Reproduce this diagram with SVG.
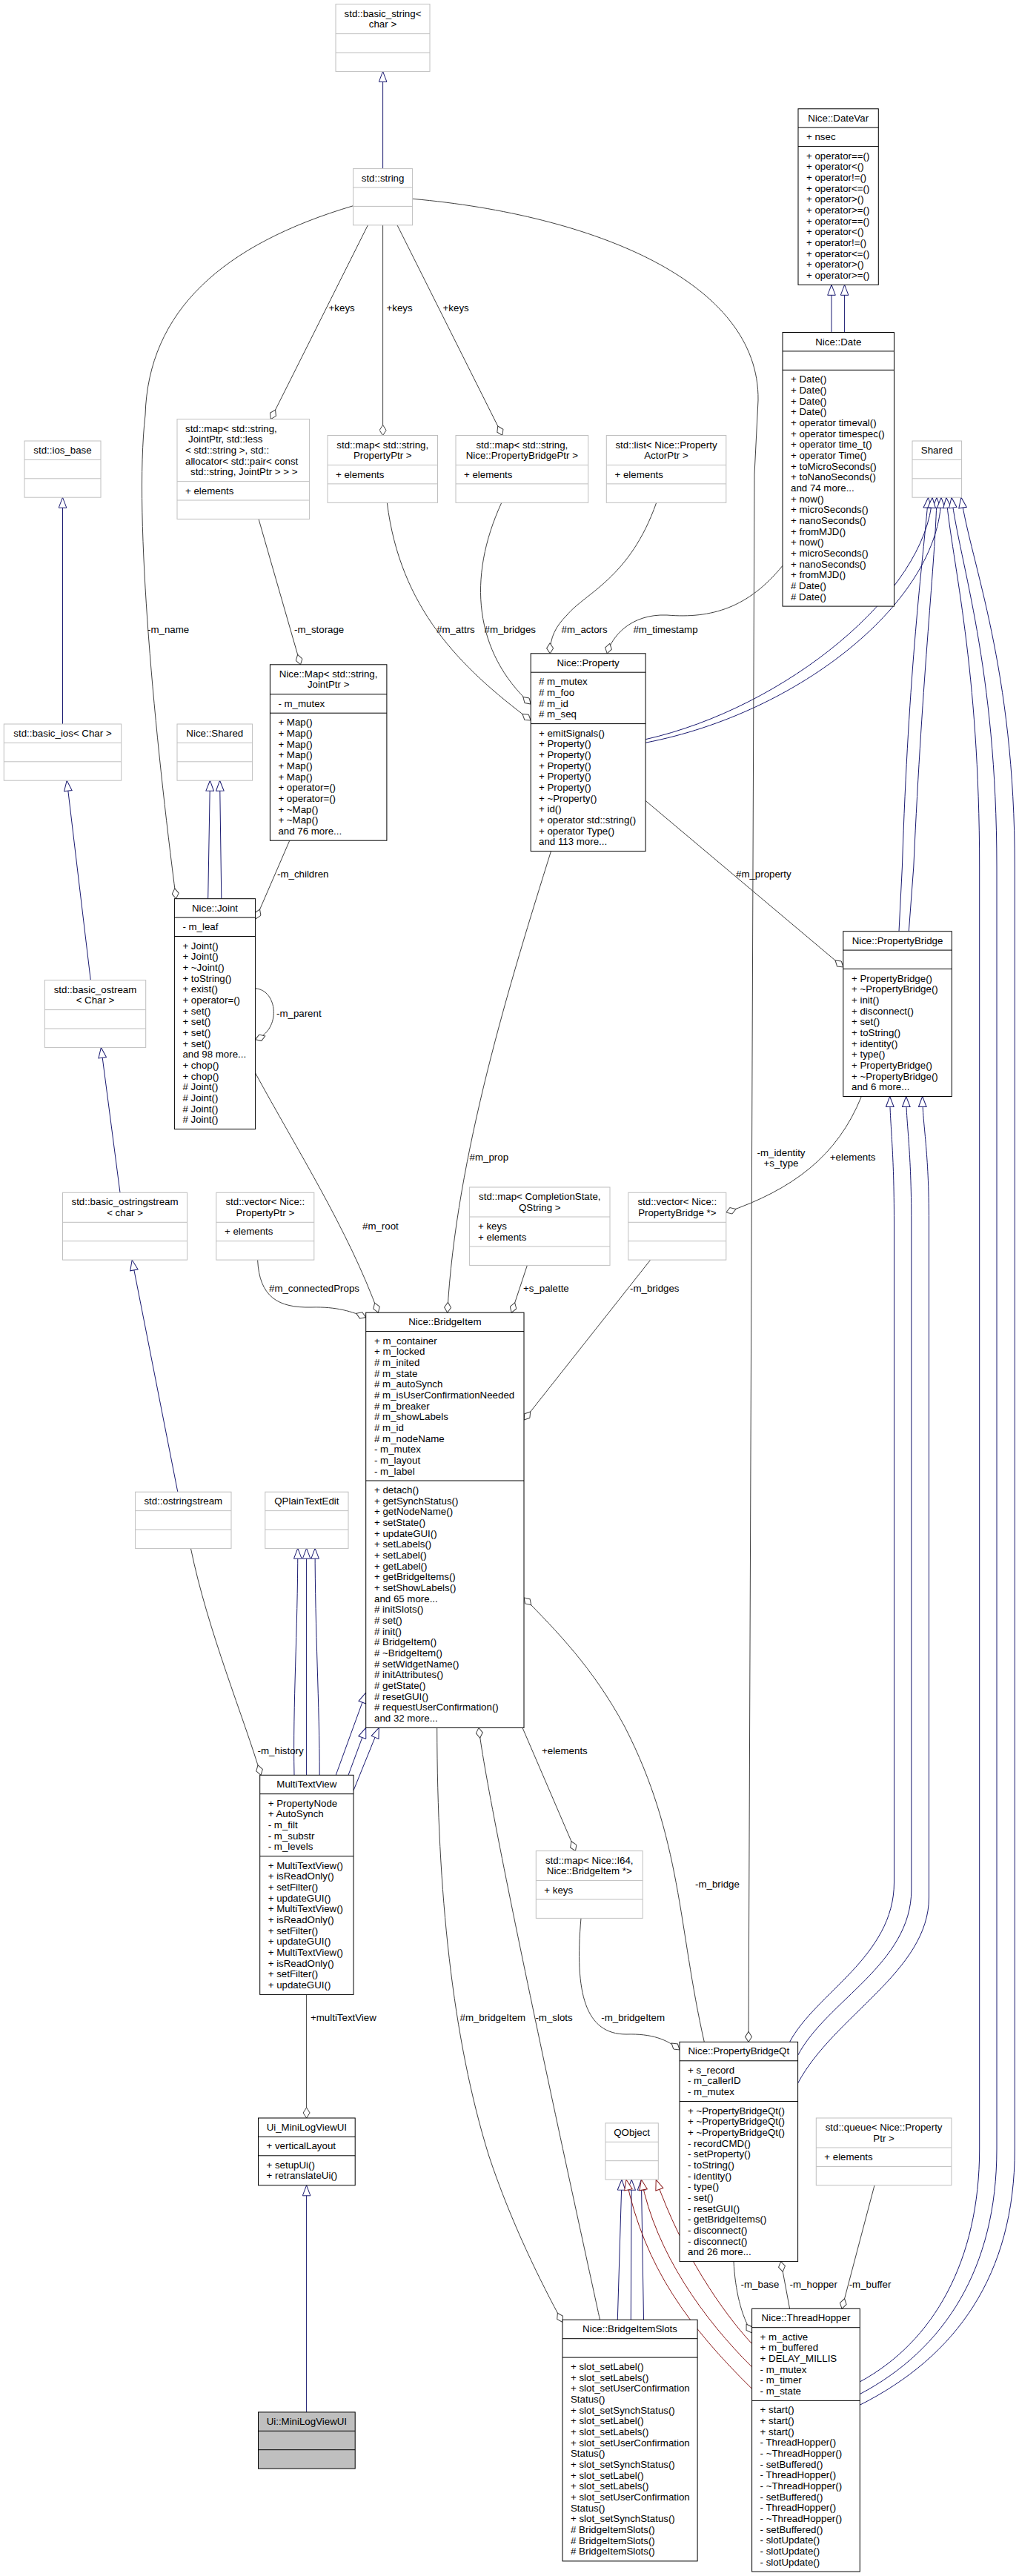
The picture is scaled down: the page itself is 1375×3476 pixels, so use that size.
<svg xmlns="http://www.w3.org/2000/svg" width="1375" height="3476" viewBox="0 0 1375 3476">
<style>
text{font-family:"Liberation Sans",Arial,Helvetica,sans-serif;font-size:13.3px;fill:#000}
.c{text-anchor:middle}
.bx{fill:#fff;stroke:#000;stroke-width:1}
.gx{fill:#fff;stroke:#bfbfbf;stroke-width:1}
.hx{fill:#bfbfbf;stroke:#000;stroke-width:1}
.bs{fill:none;stroke:#000;stroke-width:1}
.gs{fill:none;stroke:#bfbfbf;stroke-width:1}
.a{fill:none;stroke:#404040;stroke-width:1;marker-end:url(#dia)}
.i{fill:none;stroke:#191970;stroke-width:1;marker-end:url(#tri)}
.r{fill:none;stroke:#8b1a1a;stroke-width:1;marker-end:url(#trir)}
</style>
<defs>
<marker id="dia" markerUnits="userSpaceOnUse" viewBox="0 0 16 10" markerWidth="16" markerHeight="10" refX="15" refY="5" orient="auto"><path d="M1,5 L8,0.5 L15,5 L8,9.5 Z" fill="#fff" stroke="#404040"/></marker>
<marker id="tri" markerUnits="userSpaceOnUse" viewBox="0 0 16 12" markerWidth="16" markerHeight="12" refX="15" refY="6" orient="auto"><path d="M1,0.7 L15,6 L1,11.3 Z" fill="#fff" stroke="#191970"/></marker>
<marker id="trir" markerUnits="userSpaceOnUse" viewBox="0 0 16 12" markerWidth="16" markerHeight="12" refX="15" refY="6" orient="auto"><path d="M1,0.7 L15,6 L1,11.3 Z" fill="#fff" stroke="#8b1a1a"/></marker>
</defs>
<rect x="0" y="0" width="1375" height="3476" fill="#fff"/>

<g id="connectors">
<path class="i" d="M516.6,227.6 L516.6,96.4"/>
<path class="i" d="M1122,448.5 L1122,384.3"/>
<path class="i" d="M1139.6,448.5 L1139.6,384.3"/>
<path class="i" d="M84.5,977 L84.5,671.2"/>
<path class="i" d="M122.3,1322.6 L90.2,1053.2"/>
<path class="i" d="M162,1609.3 L136.4,1413.4"/>
<path class="i" d="M239.8,2013.2 L178.2,1700.1"/>
<path class="i" d="M280.7,1212.7 L283.4,1053.2"/>
<path class="i" d="M298.8,1212.7 L296.6,1053.2"/>
<path class="i" d="M397,2395.3 C395,2300 401.8,2200 401.8,2089.2"/>
<path class="i" d="M413.6,2395.3 L413.6,2089.2"/>
<path class="i" d="M431.2,2395.3 C431.2,2300 425.1,2200 425.1,2089.2"/>
<path class="i" d="M453.2,2395.3 L493.7,2284"/>
<path class="i" d="M470,2395.3 L493.7,2331.4"/>
<path class="i" d="M477,2416 L511.3,2331.4"/>
<path class="i" d="M413.6,3254.9 L413.6,2948.8"/>
<path class="i" d="M833.3,3130.3 L839,2941.1"/>
<path class="i" d="M851.3,3130.3 L852.2,2941.1"/>
<path class="i" d="M868.5,3130.3 L865.4,2941.1"/>
<path class="r" d="M1014.6,3162.6 C975,3120 920,3040 885.2,2941.1"/>
<path class="r" d="M1014.6,3193.9 C950,3130 885,3040 865.4,2941.1"/>
<path class="r" d="M1014.6,3223.3 C930,3140 870,3060 845,2941.1"/>
<path class="i" d="M1065.6,2755.4 C1100,2690 1206.5,2640 1206.5,2540 L1206.5,1650 C1206.5,1550 1201,1520 1200.7,1479.5"/>
<path class="i" d="M1076.6,2773.4 C1115,2700 1229.8,2650 1229.8,2550 L1229.8,1650 C1229.8,1550 1223,1520 1222.7,1479.5"/>
<path class="i" d="M1076.6,2811 C1125,2720 1253.5,2660 1253.5,2560 L1253.5,1650 C1253.5,1550 1245,1520 1244.7,1479.5"/>
<path class="i" d="M1213,1256.7 L1217.4,1170 C1226,900 1245,760 1252.6,671.2"/>
<path class="i" d="M1226.3,1256.7 L1232.8,1170 C1245,900 1262,760 1264,671.2"/>
<path class="i" d="M871.1,997.7 C1060,955 1250,800 1258,671.2"/>
<path class="i" d="M871.1,1002.2 C1080,962 1268,810 1270,671.2"/>
<path class="i" d="M1160.2,3214 C1260,3160 1321.7,3050 1321.7,2900 L1321.7,1170 C1321.7,900 1285,760 1276.8,671.2"/>
<path class="i" d="M1160.2,3230.6 C1275,3170 1345,3060 1345,2900 L1345,1170 C1345,900 1295,760 1284,671.2"/>
<path class="i" d="M1160.2,3245.3 C1290,3180 1369.3,3070 1369.3,2900 L1369.3,1170 C1369.3,900 1310,760 1297,671.2"/>

<path class="a" d="M496.4,303.8 L365.3,565.6"/>
<path class="a" d="M516.6,303.8 L516.6,587.5"/>
<path class="a" d="M536,303.8 L678,587.5"/>
<path class="a" d="M476.6,277.7 C300,330 200,420 196,560 C180,700 210,1000 237.6,1212.7"/>
<path class="a" d="M349,700.4 L405.5,896.8"/>
<path class="a" d="M522.3,678.3 C540,820 620,900 716.2,972"/>
<path class="a" d="M676.8,678.3 C630,780 640,880 716.2,950"/>
<path class="a" d="M885.7,678.3 C850,780 790,800 765,830 C750,845 742,860 742.2,881.8"/>
<path class="a" d="M1056,763.3 C1010,820 960,835 900,830 C850,828 825,860 819.2,881.8"/>
<path class="a" d="M390.8,1134.2 L345,1240"/>
<path class="a" d="M344.6,1333.8 C375,1336 380,1390 344.6,1402.7"/>
<path class="a" d="M344.6,1448 C400,1550 470,1660 510.4,1771.2"/>
<path class="a" d="M743.5,1148.6 C690,1320 615,1560 603.7,1771.2"/>
<path class="a" d="M871.1,1080.5 L1137.8,1305"/>
<path class="a" d="M347.6,1700.1 C350,1750 375,1765 420,1764 C455,1763 475,1770 493.7,1777.6"/>
<path class="a" d="M711.4,1707.4 L690.3,1771.2"/>
<path class="a" d="M877.7,1700.1 L707,1916"/>
<path class="a" d="M1162.4,1479.5 C1130,1560 1070,1605 979.8,1636"/>
<path class="a" d="M556.7,268.3 C800,290 1025,380 1023,540 L1018,640 L1010,2755.4"/>
<path class="a" d="M705,2331.4 L776.5,2497.6"/>
<path class="a" d="M784,2588.4 C775,2690 790,2745 845,2745 C880,2744 900,2752 917,2766"/>
<path class="a" d="M950.3,2755.4 C915,2600 920,2480 843,2330 C800,2250 750,2200 707,2155.8"/>
<path class="a" d="M809.5,3130.3 C790,3040 660,2450 646,2331.4"/>
<path class="a" d="M589.7,2331.4 C590,2550 610,2750 660,2910 C690,3000 730,3080 759,3133.5"/>
<path class="a" d="M413.6,2691.4 L413.6,2858"/>
<path class="a" d="M257.4,2089.2 C280,2200 330,2320 352,2395.3"/>
<path class="a" d="M1065.6,3115.3 L1053.7,3051.6"/>
<path class="a" d="M990,3051.6 C992,3090 1000,3125 1014.6,3148"/>
<path class="a" d="M1180,2948.8 L1136,3115.3"/>

<text x="443.6" y="420.3">+keys</text>
<text x="521.5" y="420.3">+keys</text>
<text x="597.6" y="420.3">+keys</text>
<text x="199" y="853.5">-m_name</text>
<text x="397" y="853.5">-m_storage</text>
<text x="589" y="853.5">#m_attrs</text>
<text x="653.5" y="853.5">#m_bridges</text>
<text x="757.6" y="853.5">#m_actors</text>
<text x="854.4" y="853.5">#m_timestamp</text>
<text x="374" y="1184">-m_children</text>
<text x="373" y="1371.5">-m_parent</text>
<text x="633.6" y="1566.4">#m_prop</text>
<text x="489" y="1658.5">#m_root</text>
<text x="993" y="1184">#m_property</text>
<text class="c" x="1054" y="1559.5">-m_identity</text>
<text class="c" x="1054" y="1574">+s_type</text>
<text x="1119.8" y="1566.4">+elements</text>
<text x="363" y="1742.8">#m_connectedProps</text>
<text x="706" y="1742.8">+s_palette</text>
<text x="850" y="1742.8">-m_bridges</text>
<text x="347.6" y="2367">-m_history</text>
<text x="731" y="2367">+elements</text>
<text x="938" y="2547.3">-m_bridge</text>
<text x="419" y="2727">+multiTextView</text>
<text x="620.5" y="2727">#m_bridgeItem</text>
<text x="722.4" y="2727">-m_slots</text>
<text x="811.3" y="2727">-m_bridgeItem</text>
<text x="999.6" y="3087">-m_base</text>
<text x="1065.6" y="3087">-m_hopper</text>
<text x="1145.7" y="3087">-m_buffer</text>
</g>

<g id="n-basic-string">
<rect class="gx" x="453" y="5.6" width="127" height="90.8"/>
<path class="gs" d="M453,45.6 h127 M453,71 h127"/>
<text class="c" x="516.5" y="22.6">std::basic_string&lt;<tspan x="516.5" dy="14.67">char &gt;</tspan></text>
</g>

<g id="n-std-string">
<rect class="gx" x="476.6" y="227.6" width="80" height="76.2"/>
<path class="gs" d="M476.6,253 h80 M476.6,278.4 h80"/>
<text class="c" x="516.6" y="244.6">std::string</text>
</g>

<g id="n-datevar">
<rect class="bx" x="1077" y="146.8" width="108.3" height="237.5"/>
<path class="bs" d="M1077,172.2 h108.3 M1077,197.6 h108.3"/>
<text class="c" x="1131.2" y="163.8">Nice::DateVar</text>
<text x="1088" y="189.2">+ nsec</text>
<text x="1088" y="214.6">+ operator==()<tspan x="1088" dy="14.67">+ operator&lt;()</tspan><tspan x="1088" dy="14.67">+ operator!=()</tspan><tspan x="1088" dy="14.67">+ operator&lt;=()</tspan><tspan x="1088" dy="14.67">+ operator&gt;()</tspan><tspan x="1088" dy="14.67">+ operator&gt;=()</tspan><tspan x="1088" dy="14.67">+ operator==()</tspan><tspan x="1088" dy="14.67">+ operator&lt;()</tspan><tspan x="1088" dy="14.67">+ operator!=()</tspan><tspan x="1088" dy="14.67">+ operator&lt;=()</tspan><tspan x="1088" dy="14.67">+ operator&gt;()</tspan><tspan x="1088" dy="14.67">+ operator&gt;=()</tspan></text>
</g>

<g id="n-date">
<rect class="bx" x="1056" y="448.5" width="150.5" height="369.6"/>
<path class="bs" d="M1056,473.9 h150.5 M1056,499.3 h150.5"/>
<text class="c" x="1131.25" y="465.5">Nice::Date</text>
<text x="1067" y="516.3">+ Date()<tspan x="1067" dy="14.67">+ Date()</tspan><tspan x="1067" dy="14.67">+ Date()</tspan><tspan x="1067" dy="14.67">+ Date()</tspan><tspan x="1067" dy="14.67">+ operator timeval()</tspan><tspan x="1067" dy="14.67">+ operator timespec()</tspan><tspan x="1067" dy="14.67">+ operator time_t()</tspan><tspan x="1067" dy="14.67">+ operator Time()</tspan><tspan x="1067" dy="14.67">+ toMicroSeconds()</tspan><tspan x="1067" dy="14.67">+ toNanoSeconds()</tspan><tspan x="1067" dy="14.67">and 74 more...</tspan><tspan x="1067" dy="14.67">+ now()</tspan><tspan x="1067" dy="14.67">+ microSeconds()</tspan><tspan x="1067" dy="14.67">+ nanoSeconds()</tspan><tspan x="1067" dy="14.67">+ fromMJD()</tspan><tspan x="1067" dy="14.67">+ now()</tspan><tspan x="1067" dy="14.67">+ microSeconds()</tspan><tspan x="1067" dy="14.67">+ nanoSeconds()</tspan><tspan x="1067" dy="14.67">+ fromMJD()</tspan><tspan x="1067" dy="14.67"># Date()</tspan><tspan x="1067" dy="14.67"># Date()</tspan></text>
</g>

<g id="n-map-joint">
<rect class="gx" x="239" y="565.6" width="178.6" height="134.8"/>
<path class="gs" d="M239,649.65 h178.6 M239,675 h178.6"/>
<text x="250" y="582.6">std::map&lt; std::string,</text>
<text x="254" y="597.3">JointPtr, std::less</text>
<text x="250" y="611.9">&lt; std::string &gt;, std::</text>
<text x="250" y="626.6">allocator&lt; std::pair&lt; const</text>
<text x="257" y="641.3">std::string, JointPtr &gt; &gt; &gt;</text>
<text x="250" y="666.6">+ elements</text>
</g>

<g id="n-map-property">
<rect class="gx" x="442" y="587.5" width="148.5" height="90.8"/>
<path class="gs" d="M442,627.5 h148.5 M442,652.9 h148.5"/>
<text class="c" x="516.25" y="604.5">std::map&lt; std::string,<tspan x="516.25" dy="14.67">PropertyPtr &gt;</tspan></text>
<text x="453" y="644.5">+ elements</text>
</g>

<g id="n-map-bridge">
<rect class="gx" x="615" y="587.5" width="178.7" height="90.8"/>
<path class="gs" d="M615,627.5 h178.7 M615,652.9 h178.7"/>
<text class="c" x="704.35" y="604.5">std::map&lt; std::string,<tspan x="704.35" dy="14.67">Nice::PropertyBridgePtr &gt;</tspan></text>
<text x="626" y="644.5">+ elements</text>
</g>

<g id="n-list-actor">
<rect class="gx" x="818.3" y="587.5" width="161.5" height="90.8"/>
<path class="gs" d="M818.3,627.5 h161.5 M818.3,652.9 h161.5"/>
<text class="c" x="899" y="604.5">std::list&lt; Nice::Property<tspan x="899" dy="14.67">ActorPtr &gt;</tspan></text>
<text x="829.5" y="644.5">+ elements</text>
</g>

<g id="n-ios-base">
<rect class="gx" x="33" y="595" width="103" height="76.2"/>
<path class="gs" d="M33,620.4 h103 M33,645.8 h103"/>
<text class="c" x="84.5" y="612">std::ios_base</text>
</g>

<g id="n-shared">
<rect class="gx" x="1231" y="595" width="66.6" height="76.2"/>
<path class="gs" d="M1231,620.4 h66.6 M1231,645.8 h66.6"/>
<text class="c" x="1264.3" y="612">Shared</text>
</g>

<g id="n-nice-map">
<rect class="bx" x="364.4" y="896.8" width="157.5" height="237.4"/>
<path class="bs" d="M364.4,936.8 h157.5 M364.4,962.2 h157.5"/>
<text class="c" x="443.15" y="913.8">Nice::Map&lt; std::string,<tspan x="443.15" dy="14.67">JointPtr &gt;</tspan></text>
<text x="375.4" y="953.8">- m_mutex</text>
<text x="375.4" y="979.2">+ Map()<tspan x="375.4" dy="14.67">+ Map()</tspan><tspan x="375.4" dy="14.67">+ Map()</tspan><tspan x="375.4" dy="14.67">+ Map()</tspan><tspan x="375.4" dy="14.67">+ Map()</tspan><tspan x="375.4" dy="14.67">+ Map()</tspan><tspan x="375.4" dy="14.67">+ operator=()</tspan><tspan x="375.4" dy="14.67">+ operator=()</tspan><tspan x="375.4" dy="14.67">+ ~Map()</tspan><tspan x="375.4" dy="14.67">+ ~Map()</tspan><tspan x="375.4" dy="14.67">and 76 more...</tspan></text>
</g>

<g id="n-basic-ios">
<rect class="gx" x="5.3" y="977" width="158.4" height="76.2"/>
<path class="gs" d="M5.3,1002.4 h158.4 M5.3,1027.8 h158.4"/>
<text class="c" x="84.5" y="994">std::basic_ios&lt; Char &gt;</text>
</g>

<g id="n-nice-shared">
<rect class="gx" x="239" y="977" width="101.6" height="76.2"/>
<path class="gs" d="M239,1002.4 h101.6 M239,1027.8 h101.6"/>
<text class="c" x="289.8" y="994">Nice::Shared</text>
</g>

<g id="n-property">
<rect class="bx" x="716.2" y="881.8" width="154.9" height="266.8"/>
<path class="bs" d="M716.2,907.2 h154.9 M716.2,976.6 h154.9"/>
<text class="c" x="793.65" y="898.8">Nice::Property</text>
<text x="727" y="924.2"># m_mutex<tspan x="727" dy="14.67"># m_foo</tspan><tspan x="727" dy="14.67"># m_id</tspan><tspan x="727" dy="14.67"># m_seq</tspan></text>
<text x="727" y="993.6">+ emitSignals()<tspan x="727" dy="14.67">+ Property()</tspan><tspan x="727" dy="14.67">+ Property()</tspan><tspan x="727" dy="14.67">+ Property()</tspan><tspan x="727" dy="14.67">+ Property()</tspan><tspan x="727" dy="14.67">+ Property()</tspan><tspan x="727" dy="14.67">+ ~Property()</tspan><tspan x="727" dy="14.67">+ id()</tspan><tspan x="727" dy="14.67">+ operator std::string()</tspan><tspan x="727" dy="14.67">+ operator Type()</tspan><tspan x="727" dy="14.67">and 113 more...</tspan></text>
</g>

<g id="n-joint">
<rect class="bx" x="235.4" y="1212.7" width="109.2" height="310.9"/>
<path class="bs" d="M235.4,1238.1 h109.2 M235.4,1263.5 h109.2"/>
<text class="c" x="290" y="1229.7">Nice::Joint</text>
<text x="246.4" y="1255.1">- m_leaf</text>
<text x="246.4" y="1280.5">+ Joint()<tspan x="246.4" dy="14.67">+ Joint()</tspan><tspan x="246.4" dy="14.67">+ ~Joint()</tspan><tspan x="246.4" dy="14.67">+ toString()</tspan><tspan x="246.4" dy="14.67">+ exist()</tspan><tspan x="246.4" dy="14.67">+ operator=()</tspan><tspan x="246.4" dy="14.67">+ set()</tspan><tspan x="246.4" dy="14.67">+ set()</tspan><tspan x="246.4" dy="14.67">+ set()</tspan><tspan x="246.4" dy="14.67">+ set()</tspan><tspan x="246.4" dy="14.67">and 98 more...</tspan><tspan x="246.4" dy="14.67">+ chop()</tspan><tspan x="246.4" dy="14.67">+ chop()</tspan><tspan x="246.4" dy="14.67"># Joint()</tspan><tspan x="246.4" dy="14.67"># Joint()</tspan><tspan x="246.4" dy="14.67"># Joint()</tspan><tspan x="246.4" dy="14.67"># Joint()</tspan></text>
</g>

<g id="n-propertybridge">
<rect class="bx" x="1137.8" y="1256.7" width="146.5" height="222.8"/>
<path class="bs" d="M1137.8,1282.1 h146.5 M1137.8,1307.5 h146.5"/>
<text class="c" x="1211" y="1273.7">Nice::PropertyBridge</text>
<text x="1149" y="1324.5">+ PropertyBridge()<tspan x="1149" dy="14.67">+ ~PropertyBridge()</tspan><tspan x="1149" dy="14.67">+ init()</tspan><tspan x="1149" dy="14.67">+ disconnect()</tspan><tspan x="1149" dy="14.67">+ set()</tspan><tspan x="1149" dy="14.67">+ toString()</tspan><tspan x="1149" dy="14.67">+ identity()</tspan><tspan x="1149" dy="14.67">+ type()</tspan><tspan x="1149" dy="14.67">+ PropertyBridge()</tspan><tspan x="1149" dy="14.67">+ ~PropertyBridge()</tspan><tspan x="1149" dy="14.67">and 6 more...</tspan></text>
</g>

<g id="n-basic-ostream">
<rect class="gx" x="60.3" y="1322.6" width="136.4" height="90.8"/>
<path class="gs" d="M60.3,1362.6 h136.4 M60.3,1388 h136.4"/>
<text class="c" x="128.5" y="1339.6">std::basic_ostream<tspan x="128.5" dy="14.67">&lt; Char &gt;</tspan></text>
</g>

<g id="n-basic-ostringstream">
<rect class="gx" x="84.5" y="1609.3" width="168.1" height="90.8"/>
<path class="gs" d="M84.5,1649.3 h168.1 M84.5,1674.7 h168.1"/>
<text class="c" x="168.55" y="1626.3">std::basic_ostringstream<tspan x="168.55" dy="14.67">&lt; char &gt;</tspan></text>
</g>

<g id="n-vector-property">
<rect class="gx" x="291.8" y="1609.3" width="132" height="90.8"/>
<path class="gs" d="M291.8,1649.3 h132 M291.8,1674.7 h132"/>
<text class="c" x="357.8" y="1626.3">std::vector&lt; Nice::<tspan x="357.8" dy="14.67">PropertyPtr &gt;</tspan></text>
<text x="303" y="1666.3">+ elements</text>
</g>

<g id="n-map-completion">
<rect class="gx" x="633.6" y="1602" width="189.4" height="105.4"/>
<path class="gs" d="M633.6,1642 h189.4 M633.6,1682 h189.4"/>
<text class="c" x="728.3" y="1619">std::map&lt; CompletionState,<tspan x="728.3" dy="14.67">QString &gt;</tspan></text>
<text x="645" y="1659">+ keys<tspan x="645" dy="14.67">+ elements</tspan></text>
</g>

<g id="n-vector-bridge">
<rect class="gx" x="847.8" y="1609.3" width="132" height="90.8"/>
<path class="gs" d="M847.8,1649.3 h132 M847.8,1674.7 h132"/>
<text class="c" x="913.8" y="1626.3">std::vector&lt; Nice::<tspan x="913.8" dy="14.67">PropertyBridge *&gt;</tspan></text>
</g>

<g id="n-bridgeitem">
<rect class="bx" x="493.7" y="1771.2" width="213.3" height="560.2"/>
<path class="bs" d="M493.7,1796.6 h213.3 M493.7,1998 h213.3"/>
<text class="c" x="600.35" y="1788.2">Nice::BridgeItem</text>
<text x="505" y="1813.6">+ m_container<tspan x="505" dy="14.67">+ m_locked</tspan><tspan x="505" dy="14.67"># m_inited</tspan><tspan x="505" dy="14.67"># m_state</tspan><tspan x="505" dy="14.67"># m_autoSynch</tspan><tspan x="505" dy="14.67"># m_isUserConfirmationNeeded</tspan><tspan x="505" dy="14.67"># m_breaker</tspan><tspan x="505" dy="14.67"># m_showLabels</tspan><tspan x="505" dy="14.67"># m_id</tspan><tspan x="505" dy="14.67"># m_nodeName</tspan><tspan x="505" dy="14.67">- m_mutex</tspan><tspan x="505" dy="14.67">- m_layout</tspan><tspan x="505" dy="14.67">- m_label</tspan></text>
<text x="505" y="2015">+ detach()<tspan x="505" dy="14.67">+ getSynchStatus()</tspan><tspan x="505" dy="14.67">+ getNodeName()</tspan><tspan x="505" dy="14.67">+ setState()</tspan><tspan x="505" dy="14.67">+ updateGUI()</tspan><tspan x="505" dy="14.67">+ setLabels()</tspan><tspan x="505" dy="14.67">+ setLabel()</tspan><tspan x="505" dy="14.67">+ getLabel()</tspan><tspan x="505" dy="14.67">+ getBridgeItems()</tspan><tspan x="505" dy="14.67">+ setShowLabels()</tspan><tspan x="505" dy="14.67">and 65 more...</tspan><tspan x="505" dy="14.67"># initSlots()</tspan><tspan x="505" dy="14.67"># set()</tspan><tspan x="505" dy="14.67"># init()</tspan><tspan x="505" dy="14.67"># BridgeItem()</tspan><tspan x="505" dy="14.67"># ~BridgeItem()</tspan><tspan x="505" dy="14.67"># setWidgetName()</tspan><tspan x="505" dy="14.67"># initAttributes()</tspan><tspan x="505" dy="14.67"># getState()</tspan><tspan x="505" dy="14.67"># resetGUI()</tspan><tspan x="505" dy="14.67"># requestUserConfirmation()</tspan><tspan x="505" dy="14.67">and 32 more...</tspan></text>
</g>

<g id="n-ostringstream">
<rect class="gx" x="182.6" y="2013.2" width="129.4" height="76.2"/>
<path class="gs" d="M182.6,2038.6 h129.4 M182.6,2064 h129.4"/>
<text class="c" x="247.3" y="2030.2">std::ostringstream</text>
</g>

<g id="n-qplaintextedit">
<rect class="gx" x="357.8" y="2013.2" width="112.2" height="76.2"/>
<path class="gs" d="M357.8,2038.6 h112.2 M357.8,2064 h112.2"/>
<text class="c" x="413.9" y="2030.2">QPlainTextEdit</text>
</g>

<g id="n-multitextview">
<rect class="bx" x="350.7" y="2395.3" width="126.3" height="296.1"/>
<path class="bs" d="M350.7,2420.7 h126.3 M350.7,2504.75 h126.3"/>
<text class="c" x="413.85" y="2412.3">MultiTextView</text>
<text x="361.7" y="2437.7">+ PropertyNode<tspan x="361.7" dy="14.67">+ AutoSynch</tspan><tspan x="361.7" dy="14.67">- m_filt</tspan><tspan x="361.7" dy="14.67">- m_substr</tspan><tspan x="361.7" dy="14.67">- m_levels</tspan></text>
<text x="361.7" y="2521.75">+ MultiTextView()<tspan x="361.7" dy="14.67">+ isReadOnly()</tspan><tspan x="361.7" dy="14.67">+ setFilter()</tspan><tspan x="361.7" dy="14.67">+ updateGUI()</tspan><tspan x="361.7" dy="14.67">+ MultiTextView()</tspan><tspan x="361.7" dy="14.67">+ isReadOnly()</tspan><tspan x="361.7" dy="14.67">+ setFilter()</tspan><tspan x="361.7" dy="14.67">+ updateGUI()</tspan><tspan x="361.7" dy="14.67">+ MultiTextView()</tspan><tspan x="361.7" dy="14.67">+ isReadOnly()</tspan><tspan x="361.7" dy="14.67">+ setFilter()</tspan><tspan x="361.7" dy="14.67">+ updateGUI()</tspan></text>
</g>

<g id="n-map-i64">
<rect class="gx" x="723.3" y="2497.6" width="143.9" height="90.8"/>
<path class="gs" d="M723.3,2537.6 h143.9 M723.3,2563 h143.9"/>
<text class="c" x="795.25" y="2514.6">std::map&lt; Nice::I64,<tspan x="795.25" dy="14.67">Nice::BridgeItem *&gt;</tspan></text>
<text x="734.3" y="2554.6">+ keys</text>
</g>

<g id="n-propertybridgeqt">
<rect class="bx" x="917" y="2755.4" width="159.6" height="296.2"/>
<path class="bs" d="M917,2780.8 h159.6 M917,2835.5 h159.6"/>
<text class="c" x="996.8" y="2772.4">Nice::PropertyBridgeQt</text>
<text x="928" y="2797.8">+ s_record<tspan x="928" dy="14.67">- m_callerID</tspan><tspan x="928" dy="14.67">- m_mutex</tspan></text>
<text x="928" y="2852.5">+ ~PropertyBridgeQt()<tspan x="928" dy="14.67">+ ~PropertyBridgeQt()</tspan><tspan x="928" dy="14.67">+ ~PropertyBridgeQt()</tspan><tspan x="928" dy="14.67">- recordCMD()</tspan><tspan x="928" dy="14.67">- setProperty()</tspan><tspan x="928" dy="14.67">- toString()</tspan><tspan x="928" dy="14.67">- identity()</tspan><tspan x="928" dy="14.67">- type()</tspan><tspan x="928" dy="14.67">- set()</tspan><tspan x="928" dy="14.67">- resetGUI()</tspan><tspan x="928" dy="14.67">- getBridgeItems()</tspan><tspan x="928" dy="14.67">- disconnect()</tspan><tspan x="928" dy="14.67">- disconnect()</tspan><tspan x="928" dy="14.67">and 26 more...</tspan></text>
</g>

<g id="n-ui-minilogviewui">
<rect class="bx" x="348.5" y="2858" width="130.7" height="90.8"/>
<path class="bs" d="M348.5,2883.4 h130.7 M348.5,2908.8 h130.7"/>
<text class="c" x="413.85" y="2875">Ui_MiniLogViewUI</text>
<text x="359.5" y="2900.4">+ verticalLayout</text>
<text x="359.5" y="2925.8">+ setupUi()<tspan x="359.5" dy="14.67">+ retranslateUi()</tspan></text>
</g>

<g id="n-qobject">
<rect class="gx" x="817" y="2864.9" width="71.3" height="76.2"/>
<path class="gs" d="M817,2890.3 h71.3 M817,2915.7 h71.3"/>
<text class="c" x="852.65" y="2881.9">QObject</text>
</g>

<g id="n-queue">
<rect class="gx" x="1101.3" y="2858" width="182.6" height="90.8"/>
<path class="gs" d="M1101.3,2898 h182.6 M1101.3,2923.4 h182.6"/>
<text class="c" x="1192.6" y="2875">std::queue&lt; Nice::Property<tspan x="1192.6" dy="14.67">Ptr &gt;</tspan></text>
<text x="1112.3" y="2915">+ elements</text>
</g>

<g id="n-threadhopper">
<rect class="bx" x="1014.6" y="3115.3" width="145.7" height="354.8"/>
<path class="bs" d="M1014.6,3140.7 h145.7 M1014.6,3239.4 h145.7"/>
<text class="c" x="1087.45" y="3132.3">Nice::ThreadHopper</text>
<text x="1025.6" y="3157.7">+ m_active<tspan x="1025.6" dy="14.67">+ m_buffered</tspan><tspan x="1025.6" dy="14.67">+ DELAY_MILLIS</tspan><tspan x="1025.6" dy="14.67">- m_mutex</tspan><tspan x="1025.6" dy="14.67">- m_timer</tspan><tspan x="1025.6" dy="14.67">- m_state</tspan></text>
<text x="1025.6" y="3256.4">+ start()<tspan x="1025.6" dy="14.67">+ start()</tspan><tspan x="1025.6" dy="14.67">+ start()</tspan><tspan x="1025.6" dy="14.67">- ThreadHopper()</tspan><tspan x="1025.6" dy="14.67">- ~ThreadHopper()</tspan><tspan x="1025.6" dy="14.67">- setBuffered()</tspan><tspan x="1025.6" dy="14.67">- ThreadHopper()</tspan><tspan x="1025.6" dy="14.67">- ~ThreadHopper()</tspan><tspan x="1025.6" dy="14.67">- setBuffered()</tspan><tspan x="1025.6" dy="14.67">- ThreadHopper()</tspan><tspan x="1025.6" dy="14.67">- ~ThreadHopper()</tspan><tspan x="1025.6" dy="14.67">- setBuffered()</tspan><tspan x="1025.6" dy="14.67">- slotUpdate()</tspan><tspan x="1025.6" dy="14.67">- slotUpdate()</tspan><tspan x="1025.6" dy="14.67">- slotUpdate()</tspan></text>
</g>

<g id="n-bridgeitemslots">
<rect class="bx" x="759" y="3130.3" width="182.1" height="325.6"/>
<path class="bs" d="M759,3155.7 h182.1 M759,3181.1 h182.1"/>
<text class="c" x="850.05" y="3147.3">Nice::BridgeItemSlots</text>
<text x="770" y="3198.1">+ slot_setLabel()<tspan x="770" dy="14.67">+ slot_setLabels()</tspan><tspan x="770" dy="14.67">+ slot_setUserConfirmation</tspan><tspan x="770" dy="14.67">Status()</tspan><tspan x="770" dy="14.67">+ slot_setSynchStatus()</tspan><tspan x="770" dy="14.67">+ slot_setLabel()</tspan><tspan x="770" dy="14.67">+ slot_setLabels()</tspan><tspan x="770" dy="14.67">+ slot_setUserConfirmation</tspan><tspan x="770" dy="14.67">Status()</tspan><tspan x="770" dy="14.67">+ slot_setSynchStatus()</tspan><tspan x="770" dy="14.67">+ slot_setLabel()</tspan><tspan x="770" dy="14.67">+ slot_setLabels()</tspan><tspan x="770" dy="14.67">+ slot_setUserConfirmation</tspan><tspan x="770" dy="14.67">Status()</tspan><tspan x="770" dy="14.67">+ slot_setSynchStatus()</tspan><tspan x="770" dy="14.67"># BridgeItemSlots()</tspan><tspan x="770" dy="14.67"># BridgeItemSlots()</tspan><tspan x="770" dy="14.67"># BridgeItemSlots()</tspan></text>
</g>

<g id="n-ui-ns-minilogviewui">
<rect class="hx" x="348.5" y="3254.9" width="130.7" height="76.2"/>
<path class="bs" d="M348.5,3280.3 h130.7 M348.5,3305.7 h130.7"/>
<text class="c" x="413.85" y="3271.9">Ui::MiniLogViewUI</text>
</g>
</svg>
